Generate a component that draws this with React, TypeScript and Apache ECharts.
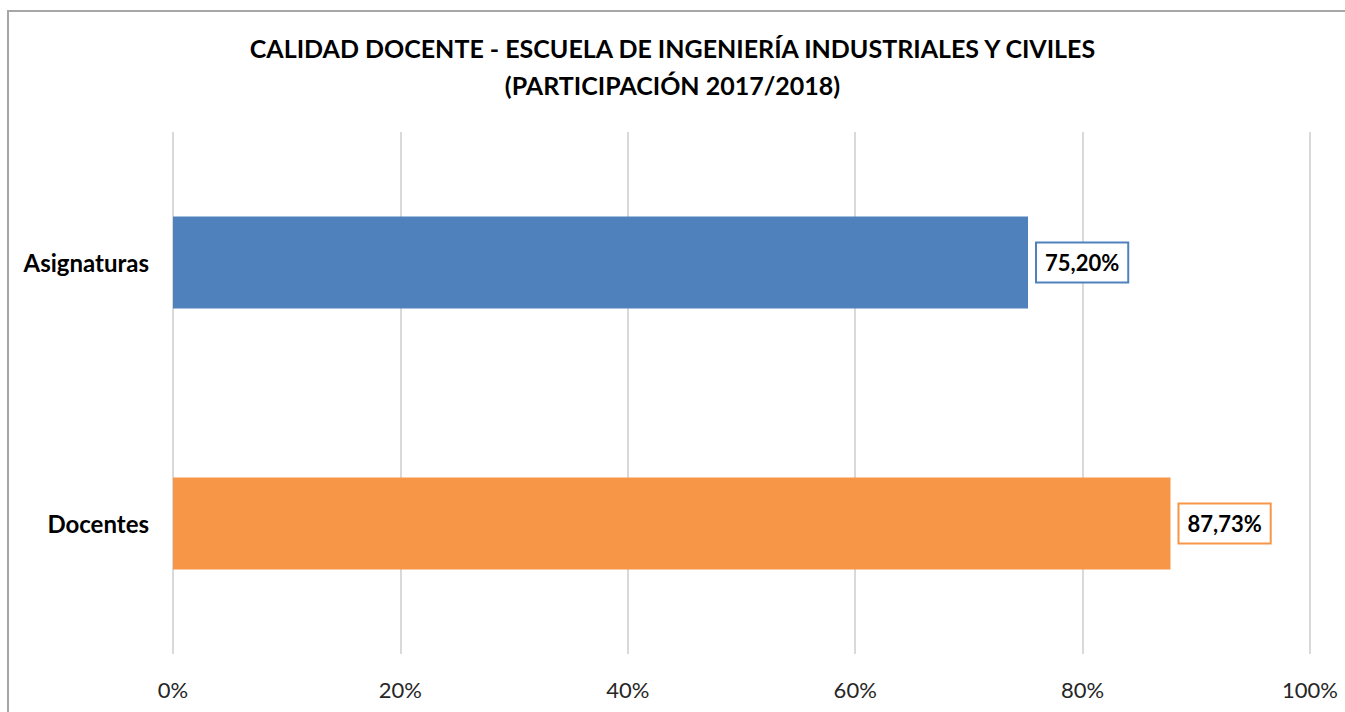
import React, { useEffect, useRef } from "react";
import * as echarts from "echarts";

const titleLines = [
  "CALIDAD DOCENTE - ESCUELA DE INGENIERÍA INDUSTRIALES Y CIVILES",
  "(PARTICIPACIÓN 2017/2018)",
];
const categories = ["Asignaturas", "Docentes"];
const values = [75.2, 87.73];
const barColors = ["#4F81BD", "#F79646"];
const xTicks = [0, 20, 40, 60, 80, 100];

const FONT = "Lato";

export default function App() {
  const ref = useRef<HTMLDivElement>(null);
  useEffect(() => {
    const chart = echarts.init(ref.current!, null, { renderer: "svg" });
    chart.setOption({
      animation: false,
      backgroundColor: "#ffffff",
      title: {
        text: titleLines.join("\n"),
        left: "center",
        top: 24,
        textStyle: {
          fontFamily: FONT,
          fontWeight: "bold",
          fontSize: 25,
          lineHeight: 37,
          color: "#000000",
        },
      },
      graphic: [
        {
          type: "rect",
          shape: { x: 8, y: 11, width: 1400, height: 800 },
          style: { fill: "none", stroke: "#a6a6a6", lineWidth: 2 },
          silent: true,
        },
      ],
      grid: { left: 173, right: 35, top: 132, bottom: 58 },
      xAxis: {
        type: "value",
        min: xTicks[0],
        max: xTicks[xTicks.length - 1],
        interval: 20,
        axisLine: { show: false },
        axisTick: { show: false },
        splitLine: { show: true, lineStyle: { color: "#d9d9d9", width: 2 } },
        axisLabel: {
          formatter: (v: number) => `${v}%`,
          fontFamily: FONT,
          fontSize: 22,
          color: "#262626",
          margin: 24,
        },
      },
      yAxis: {
        type: "category",
        data: categories,
        inverse: true,
        axisLine: { show: false },
        axisTick: { show: false },
        axisLabel: {
          fontFamily: FONT,
          fontWeight: "bold",
          fontSize: 24,
          color: "#000000",
          margin: 24,
        },
      },
      series: [
        {
          type: "bar",
          barWidth: 92,
          data: values.map((v, i) => ({
            value: v,
            itemStyle: { color: barColors[i] },
            label: {
              show: true,
              position: "right",
              distance: 9,
              formatter: () => v.toFixed(2).replace(".", ",") + "%",
              fontFamily: FONT,
              fontWeight: "bold",
              fontSize: 22,
              color: "#000000",
              backgroundColor: "#ffffff",
              borderColor: barColors[i],
              borderWidth: 2,
              padding: [8, 8, 8, 8],
            },
          })),
        },
      ],
    });
    return () => chart.dispose();
  }, []);
  return (
    <div
      ref={ref}
      style={{ position: "absolute", left: 0, top: 0, width: 1345, height: 712 }}
    />
  );
}
